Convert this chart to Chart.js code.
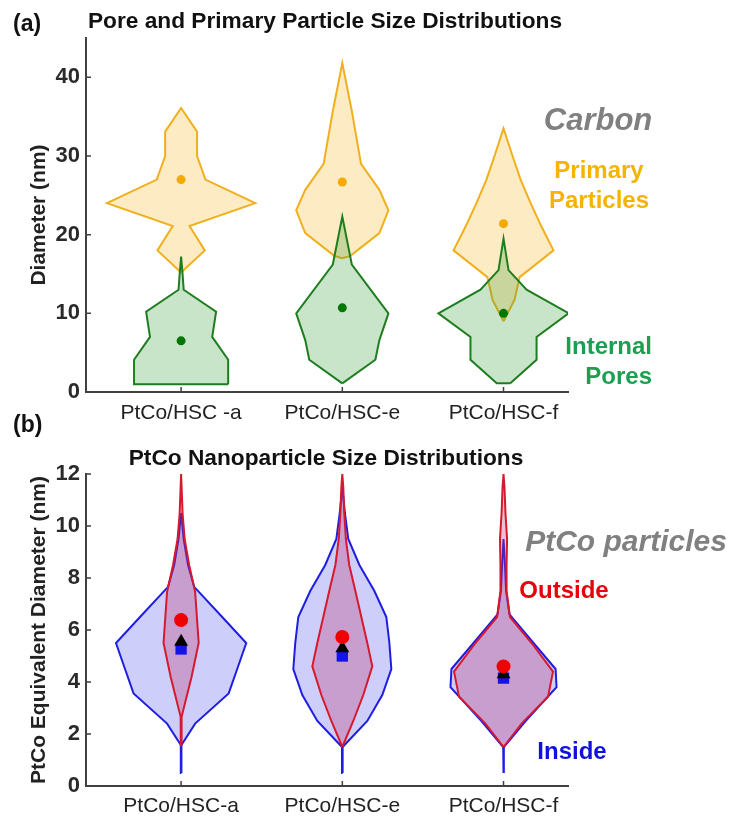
<!DOCTYPE html>
<html lang="en">
<head>
    <meta charset="UTF-8">
    <title>Pore and PtCo Particle Size Distributions</title>
    <script src="https://cdn.jsdelivr.net/npm/chart.js"></script>
    <style>
        body { margin: 0; background: #fff; font-family: "Liberation Sans", Arial, sans-serif; }
        #wrap { position: relative; width: 736px; height: 816px; overflow: hidden; }
        canvas { position: absolute; left: 0; }
        .lbl { position: absolute; font-weight: bold; white-space: nowrap; line-height: 1; }
    </style>
</head>
<body>
<div id="wrap">
    <canvas id="chartA" width="736" height="430" style="top:0"></canvas>
    <canvas id="chartB" width="736" height="386" style="top:430px"></canvas>

    <div class="lbl" style="left:13px;top:12px;font-size:23px;color:#111">(a)</div>
    <div class="lbl" style="left:325px;top:9px;font-size:22.7px;color:#111;transform:translateX(-50%)">Pore and Primary Particle Size Distributions</div>
    <div class="lbl" style="left:598px;top:104px;font-size:31px;color:#808080;font-style:italic;transform:translateX(-50%)">Carbon</div>
    <div class="lbl" style="left:599px;top:155px;font-size:24px;color:#f5b400;text-align:center;line-height:30px;transform:translateX(-50%)">Primary<br>Particles</div>
    <div class="lbl" style="left:652px;top:331px;font-size:24px;color:#1e9e50;text-align:right;line-height:30px;transform:translateX(-100%)">Internal<br>Pores</div>

    <div class="lbl" style="left:13px;top:413px;font-size:23px;color:#111">(b)</div>
    <div class="lbl" style="left:326px;top:446px;font-size:22.7px;color:#111;transform:translateX(-50%)">PtCo Nanoparticle Size Distributions</div>
    <div class="lbl" style="left:626px;top:526px;font-size:30px;color:#808080;font-style:italic;transform:translateX(-50%)">PtCo particles</div>
    <div class="lbl" style="left:564px;top:578px;font-size:24px;color:#e8000b;transform:translateX(-50%)">Outside</div>
    <div class="lbl" style="left:572px;top:739px;font-size:24px;color:#1010e0;transform:translateX(-50%)">Inside</div>
</div>

<script>
    // categories
    const groupsA = ['PtCo/HSC -a', 'PtCo/HSC-e', 'PtCo/HSC-f'];
    const groupsB = ['PtCo/HSC-a', 'PtCo/HSC-e', 'PtCo/HSC-f'];

    // (a) carbon primary particles: diameter levels (nm) and violin half-widths (category units)
    const primaryLevels = [
        [15.2, 18, 21.1, 24, 27, 30, 33.1, 36.1],
        [17, 17.3, 18, 20.2, 23.1, 25.7, 29, 35.6, 41.8],
        [9.0, 11.7, 14.6, 18.0, 21, 24, 27, 30, 33.5]
    ];
    const primaryWidth = [
        [0, 0.147, 0.052, 0.46, 0.151, 0.099, 0.099, 0],
        [0, 0.05, 0.093, 0.23, 0.286, 0.23, 0.116, 0.06, 0],
        [0, 0.068, 0.1, 0.31, 0.236, 0.168, 0.106, 0.056, 0]
    ];
    const primaryMean = [27.0, 26.7, 21.4];

    // (a) internal pores
    const poreLevels = [
        [1.0, 4.1, 7.0, 10.2, 13.0, 15.0, 17.2],
        [1.1, 4.1, 6.6, 10.0, 16.2, 22.3],
        [1.1, 4.1, 7.0, 10.0, 13.0, 15.5, 19.5]
    ];
    const poreWidth = [
        [0.292, 0.292, 0.193, 0.217, 0.016, 0.009, 0],
        [0, 0.205, 0.23, 0.286, 0.059, 0],
        [0.042, 0.205, 0.205, 0.404, 0.143, 0.031, 0]
    ];
    const poreMean = [6.5, 10.7, 10.0];

    // (b) PtCo particles inside carbon
    const insideLevels = [
        [0.5, 1.58, 2.4, 3.56, 4.5, 5.5, 6.5, 7.66, 8.5, 9.5, 10.5],
        [0.5, 1.5, 2.5, 3.5, 4.5, 5.5, 6.5, 7.5, 8.5, 9.5, 10.5, 11.5],
        [0.5, 1.5, 2.5, 3.8, 4.5, 5.5, 6.6, 7.5, 8.5, 9.5]
    ];
    const insideWidth = [
        [0.002, 0.002, 0.087, 0.295, 0.348, 0.404, 0.255, 0.081, 0.043, 0.016, 0],
        [0.002, 0.002, 0.155, 0.248, 0.304, 0.292, 0.273, 0.199, 0.106, 0.037, 0.016, 0],
        [0.002, 0.002, 0.137, 0.329, 0.323, 0.186, 0.037, 0.016, 0.009, 0]
    ];

    // (b) PtCo particles outside carbon
    const outsideLevels = [
        [1.58, 2.66, 4.2, 5.5, 7.47, 8.5, 9.5, 10.5, 12.0],
        [1.5, 2.5, 3.5, 4.6, 5.5, 6.5, 7.5, 8.5, 9.5, 10.5, 11.5, 12],
        [1.5, 2.4, 3.43, 4.4, 5.5, 6.5, 7.5, 8.5, 9.5, 10.5, 11.5, 12]
    ];
    const outsideWidth = [
        [0.002, 0.003, 0.065, 0.109, 0.087, 0.05, 0.022, 0.009, 0],
        [0, 0.068, 0.13, 0.186, 0.155, 0.118, 0.081, 0.043, 0.022, 0.012, 0.006, 0],
        [0, 0.112, 0.276, 0.307, 0.174, 0.04, 0.019, 0.019, 0.022, 0.012, 0.006, 0]
    ];

    const outsideMean = [6.38, 5.73, 4.6];
    const allMean = [5.55, 5.3, 4.3];
    const insideMean = [5.27, 5.0, 4.15];

    // closed outline: right side going up, left side coming back down
    function violin(center, levels, widths) {
        const right = levels.map((y, i) => ({ x: center + widths[i], y: y }));
        const left = levels.map((y, i) => ({ x: center - widths[i], y: y })).reverse();
        const pts = right.concat(left);
        pts.push(pts[0]);
        return pts;
    }

    function violinSets(levels, widths, line, fill, order) {
        return levels.map((lv, i) => ({
            data: violin(i + 1, lv, widths[i]),
            borderColor: line,
            backgroundColor: fill,
            borderWidth: 2,
            fill: 'shape',
            pointRadius: 0,
            tension: 0,
            order: order
        }));
    }

    function markers(values, style, color, radius, order) {
        return {
            data: values.map((v, i) => ({ x: i + 1, y: v })),
            showLine: false,
            pointStyle: style,
            pointRadius: radius,
            pointBackgroundColor: color,
            pointBorderColor: color,
            pointBorderWidth: 0,
            order: order
        };
    }

    // MATLAB style ticks pointing into the plot
    const inTicks = {
        id: 'inTicks',
        afterDraw(chart) {
            const { ctx, chartArea, scales } = chart;
            ctx.save();
            ctx.strokeStyle = '#404040';
            ctx.lineWidth = 1.5;
            ctx.beginPath();
            scales.x.ticks.forEach(t => {
                const px = scales.x.getPixelForValue(t.value);
                ctx.moveTo(px, chartArea.bottom);
                ctx.lineTo(px, chartArea.bottom - 5);
            });
            scales.y.ticks.forEach(t => {
                const py = scales.y.getPixelForValue(t.value);
                ctx.moveTo(chartArea.left, py);
                ctx.lineTo(chartArea.left + 5, py);
            });
            ctx.stroke();
            ctx.restore();
        }
    };

    function makeOptions(cfg) {
        return {
            responsive: false,
            animation: false,
            layout: { padding: { left: 0, top: cfg.top, right: 168, bottom: 0 } },
            plugins: { legend: { display: false }, tooltip: { enabled: false } },
            scales: {
                x: {
                    type: 'linear',
                    min: 0.41,
                    max: 3.4,
                    grid: { display: false, drawTicks: false },
                    border: { display: true, color: '#404040', width: 2 },
                    afterBuildTicks: s => { s.ticks = [1, 2, 3].map(v => ({ value: v })); },
                    afterFit: s => { s.height = cfg.xHeight; },
                    ticks: {
                        padding: cfg.xPad,
                        color: '#222',
                        font: { family: 'Liberation Sans', size: 21 },
                        callback: v => cfg.groups[v - 1]
                    }
                },
                y: {
                    min: cfg.yMin,
                    max: cfg.yMax,
                    grid: { display: false, drawTicks: false },
                    border: { display: true, color: '#404040', width: 2 },
                    afterFit: s => { s.width = 86; },
                    ticks: {
                        stepSize: cfg.step,
                        includeBounds: false,
                        padding: 6,
                        color: '#2a2a2a',
                        font: { family: 'Liberation Sans', size: 22, weight: 'bold' }
                    },
                    title: {
                        display: true,
                        text: cfg.yTitle,
                        color: '#222',
                        padding: { top: 27, bottom: 0 },
                        font: { family: 'Liberation Sans', size: 21, weight: 'bold' }
                    }
                }
            }
        };
    }

    new Chart(document.getElementById('chartA'), {
        type: 'line',
        data: {
            datasets: [
                markers(poreMean, 'circle', 'rgb(0,120,0)', 4.5, 0),
                markers(primaryMean, 'circle', 'rgb(245,170,0)', 4.5, 1),
                ...violinSets(poreLevels, poreWidth, 'rgb(30,125,30)', 'rgba(40,150,40,0.25)', 2),
                ...violinSets(primaryLevels, primaryWidth, 'rgb(240,176,30)', 'rgba(250,190,60,0.3)', 3)
            ]
        },
        options: makeOptions({ top: 38, xHeight: 38, xPad: 9, groups: groupsA, yMin: 0, yMax: 45, step: 10, yTitle: 'Diameter (nm)' }),
        plugins: [inTicks]
    });

    new Chart(document.getElementById('chartB'), {
        type: 'line',
        data: {
            datasets: [
                markers(outsideMean, 'circle', 'rgb(240,0,0)', 7, 0),
                markers(allMean, 'triangle', '#000', 8, 1),
                markers(insideMean, 'rect', 'rgb(20,20,230)', 8, 2),
                ...violinSets(outsideLevels, outsideWidth, 'rgb(215,25,45)', 'rgba(190,50,110,0.3)', 3),
                ...violinSets(insideLevels, insideWidth, 'rgb(30,30,225)', 'rgba(30,30,230,0.22)', 4)
            ]
        },
        options: makeOptions({ top: 44, xHeight: 30, xPad: 8, groups: groupsB, yMin: 0, yMax: 12, step: 2, yTitle: 'PtCo Equivalent Diameter (nm)' }),
        plugins: [inTicks]
    });
</script>
</body>
</html>
